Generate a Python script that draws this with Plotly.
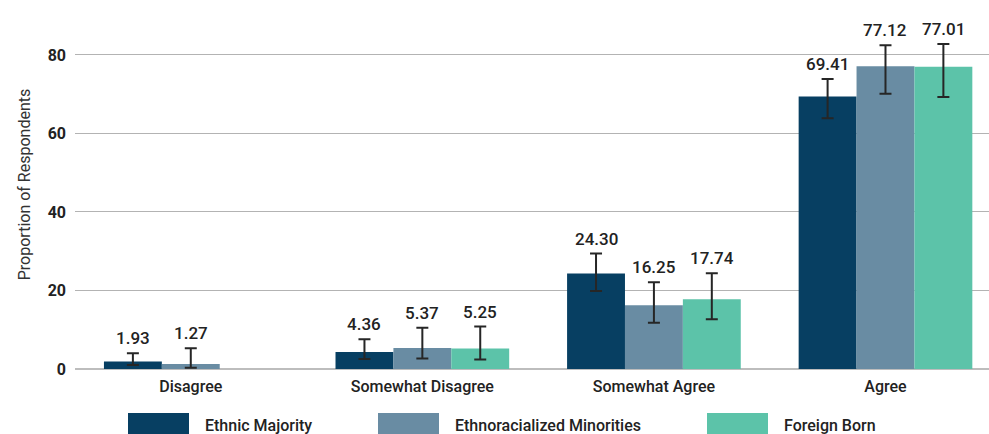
import plotly.graph_objects as go

# Survey responses by group, with confidence bounds
categories = ["Disagree", "Somewhat Disagree", "Somewhat Agree", "Agree"]
series = ["Ethnic Majority", "Ethnoracialized Minorities", "Foreign Born"]
colors = ["#073f62", "#698ca3", "#5cc3a9"]

ethnic_majority = [1.93, 4.36, 24.30, 69.41]
ethnic_majority_lo = [1.0, 2.55, 19.9, 63.9]
ethnic_majority_hi = [4.0, 7.55, 29.4, 73.9]

minorities = [1.27, 5.37, 16.25, 77.12]
minorities_lo = [0.35, 2.65, 11.8, 70.1]
minorities_hi = [5.3, 10.5, 22.1, 82.5]

foreign_born = [None, 5.25, 17.74, 77.01]
foreign_born_lo = [None, 2.45, 12.7, 69.3]
foreign_born_hi = [None, 10.8, 24.4, 82.8]

values = [ethnic_majority, minorities, foreign_born]
lows = [ethnic_majority_lo, minorities_lo, foreign_born_lo]
highs = [ethnic_majority_hi, minorities_hi, foreign_born_hi]

y_ticks = [0, 20, 40, 60, 80]

FONT = "Roboto"
TEXT = "#222222"
BARGAP = 0.25

xs = list(range(len(categories)))
fig = go.Figure()
annotations = []
bar_w = (1 - BARGAP) / len(series)

for k, name in enumerate(series):
    vals, lo, hi = values[k], lows[k], highs[k]
    plus = [h - v if v is not None else None for v, h in zip(vals, hi)]
    minus = [v - l if v is not None else None for v, l in zip(vals, lo)]
    fig.add_trace(go.Bar(
        x=xs, y=vals, name=name, marker=dict(color=colors[k], line=dict(width=0)),
        error_y=dict(type="data", symmetric=False, array=plus, arrayminus=minus,
                     color="#262626", thickness=2, width=6),
        showlegend=False,
    ))
    offset = (k - (len(series) - 1) / 2) * bar_w
    for i, (v, h) in enumerate(zip(vals, hi)):
        if v is None:
            continue
        annotations.append(dict(
            x=i + offset, y=h, xref="x", yref="y", text=f"{v:.2f}",
            showarrow=False, yanchor="bottom", yshift=3,
            font=dict(family=FONT, size=17, color=TEXT, weight=500),
        ))

# Legend drawn as wide swatches below the axis
plot_left, plot_w, plot_h = 75, 914, 369
legend_swatch_px = [128, 378, 707]
for k, name in enumerate(series):
    x0 = (legend_swatch_px[k] - plot_left) / plot_w
    x1 = (legend_swatch_px[k] + 61 - plot_left) / plot_w
    fig.add_shape(type="rect", xref="paper", yref="paper",
                  x0=x0, x1=x1, y0=(plot_h - 413) / plot_h, y1=(plot_h - 440) / plot_h,
                  fillcolor=colors[k], line=dict(width=0), layer="above")
    annotations.append(dict(
        x=(legend_swatch_px[k] + 75 - plot_left) / plot_w, y=(plot_h - 425) / plot_h,
        xref="paper", yref="paper", text=name, showarrow=False,
        xanchor="left", yanchor="middle",
        font=dict(family=FONT, size=16, color=TEXT, weight=500),
    ))

fig.update_layout(
    width=989, height=434,
    margin=dict(l=75, r=0, t=0, b=65),
    paper_bgcolor="white", plot_bgcolor="white",
    barmode="group", bargap=BARGAP, bargroupgap=0,
    annotations=annotations,
    showlegend=False,
)
fig.update_xaxes(
    range=[-0.5, 3.447], tickvals=xs, ticktext=categories,
    showgrid=False, zeroline=False, showline=False, ticks="",
    tickfont=dict(family=FONT, size=16, color=TEXT, weight=500),
    ticklabelstandoff=6,
)
fig.update_yaxes(
    range=[0, 94], tickvals=y_ticks,
    showgrid=True, gridcolor="#b3b3b3", gridwidth=1,
    zeroline=True, zerolinecolor="#bdbdbd", zerolinewidth=2,
    showline=False, ticks="",
    tickfont=dict(family=FONT, size=16, color=TEXT, weight=700),
    ticklabelstandoff=8,
    title=dict(text="Proportion of Respondents", standoff=13,
               font=dict(family=FONT, size=16, color="#333333")),
)

fig.write_html("out.html")
